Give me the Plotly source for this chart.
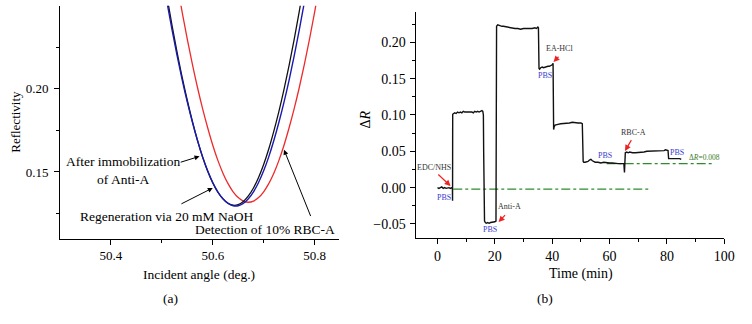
import plotly.graph_objects as go

# ---------------- Panel (a): SPR reflectivity curves ----------------
angle = [50.49, 50.50, 50.51, 50.52, 50.53, 50.54, 50.55, 50.56, 50.57, 50.58,
         50.59, 50.60, 50.61, 50.62, 50.63, 50.64, 50.65, 50.66, 50.67, 50.68,
         50.69, 50.70, 50.71, 50.72, 50.73, 50.74, 50.75, 50.76, 50.77, 50.78,
         50.79, 50.80]
refl_black = [0.2933, 0.2740, 0.2554, 0.2380, 0.2218, 0.2067, 0.1930, 0.1804, 0.1690, 0.1590,
              0.1505, 0.1434, 0.1378, 0.1338, 0.1312, 0.1300, 0.1304, 0.1323, 0.1356, 0.1404,
              0.1467, 0.1545, 0.1638, 0.1746, 0.1865, 0.1997, 0.2141, 0.2297, 0.2466, 0.2646,
              0.2838, 0.3030]
refl_blue = [0.2885, 0.2698, 0.2521, 0.2354, 0.2198, 0.2053, 0.1920, 0.1799, 0.1689, 0.1591,
             0.1507, 0.1437, 0.1381, 0.1339, 0.1311, 0.1297, 0.1297, 0.1311, 0.1339, 0.1381,
             0.1437, 0.1507, 0.1591, 0.1689, 0.1799, 0.1920, 0.2053, 0.2198, 0.2354, 0.2521,
             0.2698, 0.2885]
angle_red = [50.50, 50.51, 50.52, 50.53, 50.54, 50.55, 50.56, 50.57, 50.58, 50.59,
             50.60, 50.61, 50.62, 50.63, 50.64, 50.65, 50.66, 50.67, 50.68, 50.69,
             50.70, 50.71, 50.72, 50.73, 50.74, 50.75, 50.76, 50.77, 50.78, 50.79,
             50.80, 50.81, 50.82, 50.83]
refl_red = [0.3211, 0.3008, 0.2814, 0.2631, 0.2459, 0.2297, 0.2147, 0.2008, 0.1881, 0.1766,
            0.1661, 0.1570, 0.1493, 0.1430, 0.1381, 0.1346, 0.1325, 0.1318, 0.1325, 0.1346,
            0.1381, 0.1430, 0.1493, 0.1570, 0.1661, 0.1766, 0.1881, 0.2008, 0.2147, 0.2297,
            0.2459, 0.2631, 0.2814, 0.3008]

# ---------------- Panel (b): sensorgram ----------------
time_min = [0, 0.5, 1, 1.5, 2, 2.5, 3, 3.5, 4, 4.5, 5, 5.2, 5.25, 5.3,
            5.5, 6, 6.5, 7, 7.5, 8, 8.5, 9, 9.5, 10, 10.5, 11, 11.5, 12, 12.5, 13, 13.5, 14, 14.5, 15, 15.5, 15.8,
            16.0, 16.1, 16.2, 16.4, 16.7,
            17, 17.5, 18, 18.5, 19, 19.5, 20, 20.4,
            20.6,
            21, 21.5, 22, 22.5, 23, 24, 25, 26, 27, 28, 29, 30, 31, 32, 33, 34, 34.5, 35, 35.2,
            35.4,
            35.6, 36, 36.5, 37, 37.5, 38, 38.5, 39, 39.5, 40, 40.3,
            40.5, 40.7, 41,
            41.5, 42, 43, 44, 45, 46, 47, 48, 49, 50, 50.5,
            50.8,
            51, 51.5, 52, 52.5, 53, 53.5, 54, 54.5, 55, 56, 57, 58, 59, 60, 61, 62, 63, 64, 65,
            65.2, 65.3,
            65.5, 66, 66.5, 67, 67.5, 68, 69, 70, 71, 72, 73, 74, 75, 76, 77, 78, 79, 79.5, 80, 80.4,
            80.6,
            81, 81.5, 82, 82.5, 83, 83.5, 84, 84.5, 85]
delta_r = [0.000, -0.001, 0.000, 0.001, -0.001, 0.000, -0.001, 0.000, 0.000, -0.001, 0.000, -0.001, -0.018, 0.101,
           0.102, 0.103, 0.102, 0.104, 0.103, 0.104, 0.103, 0.105, 0.104, 0.104, 0.105, 0.104, 0.105, 0.104, 0.103, 0.105, 0.104, 0.105, 0.104, 0.105, 0.106, 0.105,
           0.100, 0.050, -0.040, -0.046, -0.048,
           -0.049, -0.048, -0.049, -0.048, -0.048, -0.047, -0.047, -0.046,
           0.222,
           0.224, 0.223, 0.223, 0.222, 0.222, 0.221, 0.221, 0.220, 0.219, 0.219, 0.218, 0.219, 0.219, 0.218, 0.219, 0.220, 0.219, 0.221, 0.220,
           0.164,
           0.163, 0.165, 0.166, 0.165, 0.166, 0.166, 0.167, 0.167, 0.168, 0.169, 0.171,
           0.080, 0.084, 0.086,
           0.087, 0.087, 0.088, 0.088, 0.089, 0.089, 0.090, 0.089, 0.089, 0.089, 0.088,
           0.036,
           0.035, 0.035, 0.035, 0.036, 0.038, 0.039, 0.037, 0.036, 0.035, 0.035, 0.034, 0.035, 0.034, 0.034, 0.034, 0.033, 0.033, 0.033, 0.033,
           0.021, 0.048,
           0.048, 0.049, 0.048, 0.049, 0.048, 0.048, 0.048, 0.048, 0.049, 0.049, 0.050, 0.050, 0.050, 0.051, 0.051, 0.050, 0.051, 0.052, 0.052, 0.051,
           0.040,
           0.040, 0.041, 0.040, 0.040, 0.041, 0.040, 0.040, 0.040, 0.039]

baseline1_t = [5.5, 73.5]
baseline1_r = [-0.002, -0.002]
baseline2_t = [59, 96]
baseline2_r = [0.033, 0.033]

FONT = "Liberation Serif, Times New Roman, serif"
W, H = 752, 324

fig = go.Figure()
fig.add_trace(go.Scatter(x=angle_red, y=refl_red, mode="lines", line=dict(color="#ee2a2a", width=1.3, shape="spline"),
                         xaxis="x", yaxis="y", showlegend=False))
fig.add_trace(go.Scatter(x=angle, y=refl_black, mode="lines", line=dict(color="#111111", width=1.3, shape="spline"),
                         xaxis="x", yaxis="y", showlegend=False))
fig.add_trace(go.Scatter(x=angle, y=refl_blue, mode="lines", line=dict(color="#1a1ab0", width=1.4, shape="spline"),
                         xaxis="x", yaxis="y", showlegend=False))

fig.add_trace(go.Scatter(x=baseline1_t, y=baseline1_r, mode="lines", line=dict(color="#2e8b2e", width=1.2, dash="dashdot"),
                         xaxis="x2", yaxis="y2", showlegend=False))
fig.add_trace(go.Scatter(x=baseline2_t, y=baseline2_r, mode="lines", line=dict(color="#2e8b2e", width=1.2, dash="dashdot"),
                         xaxis="x2", yaxis="y2", showlegend=False))
fig.add_trace(go.Scatter(x=time_min, y=delta_r, mode="lines", line=dict(color="#111111", width=1.4),
                         xaxis="x2", yaxis="y2", showlegend=False))

axis_common = dict(showline=True, linecolor="black", linewidth=1, ticks="outside", ticklen=5, tickwidth=1,
                   tickcolor="black", showgrid=False, zeroline=False, mirror=False)

fig.update_layout(
    width=W, height=H, margin=dict(l=0, r=0, t=0, b=0),
    paper_bgcolor="white", plot_bgcolor="white",
    font=dict(family=FONT, color="black", size=13),
    xaxis=dict(domain=[61 / W, 344 / W], range=[50.3, 50.848], anchor="y",
               tickvals=[50.4, 50.6, 50.8], ticktext=["50.4", "50.6", "50.8"],
               minor=dict(tickvals=[50.5, 50.7], ticks="outside", ticklen=3, tickcolor="black"),
               tickfont=dict(size=13, family=FONT), ticklabelstandoff=0, **axis_common),
    yaxis=dict(domain=[(H - 238.5) / H, (H - 5.7) / H], range=[0.11, 0.25], anchor="x",
               tickvals=[0.15, 0.20], ticktext=["0.15", "0.20"],
               minor=dict(tickvals=[0.125, 0.175, 0.225], ticks="outside", ticklen=3, tickcolor="black"),
               tickfont=dict(size=13, family=FONT), ticklabelstandoff=3, **axis_common),
    xaxis2=dict(domain=[421.7 / W, 735 / W], range=[-7.66, 100], anchor="y2",
                tickvals=[0, 20, 40, 60, 80, 100],
                minor=dict(tickvals=[10, 30, 50, 70, 90], ticks="outside", ticklen=3, tickcolor="black"),
                tickfont=dict(size=14, family=FONT), ticklabelstandoff=0, **axis_common),
    yaxis2=dict(domain=[(H - 238.3) / H, (H - 12) / H], range=[-0.0697, 0.2417], anchor="x2",
                tickvals=[-0.05, 0.0, 0.05, 0.10, 0.15, 0.20], tickformat=".2f",
                minor=dict(tickvals=[-0.025, 0.025, 0.075, 0.125, 0.175, 0.225], ticks="outside", ticklen=3, tickcolor="black"),
                tickfont=dict(size=14, family=FONT), ticklabelstandoff=1, **axis_common),
)

ann = []
def P(px, py):
    return px / W, 1 - py / H

for text, px, py, size, angle_deg in [
    ("Reflectivity", 15, 122, 13, -90),
    ("Incident angle (deg.)", 202, 274, 13.5, 0),
    ("(a)", 173, 298, 13.5, 0),
    ("Δ<i>R</i>", 370, 120, 14, -90),
    ("Time (min)", 590, 274, 14, 0),
    ("(b)", 553, 298, 13.5, 0),
]:
    x, y = P(px, py)
    ann.append(dict(text=text, x=x, y=y, xref="paper", yref="paper", showarrow=False,
                    xanchor="center", yanchor="middle", textangle=angle_deg,
                    font=dict(size=size, family=FONT, color="black")))

for text, x, y in [
    ("After immobilization<br>of Anti-A", 50.424, 0.1508),
    ("Regeneration via 20 mM NaOH", 50.510, 0.1233),
    ("Detection of 10% RBC-A", 50.7025, 0.1154),
]:
    ann.append(dict(text=text, x=x, y=y, xref="x", yref="y", showarrow=False, xanchor="center",
                    yanchor="middle", align="center", font=dict(size=13.5, family=FONT, color="black")))

for (tx, ty, hx, hy) in [
    (50.534, 0.1556, 50.574, 0.1594),
    (50.5355, 0.1304, 50.600, 0.1404),
    (50.7935, 0.1226, 50.740, 0.1634),
]:
    ann.append(dict(text="", x=hx, y=hy, ax=tx, ay=ty, xref="x", yref="y", axref="x", ayref="y",
                    showarrow=True, arrowhead=2, arrowsize=1, arrowwidth=1, arrowcolor="black"))

small = 8
for text, x, y, col, sz in [
    ("EDC/NHS", -1.2, 0.0284, "#333333", small),
    ("PBS", 2.3, -0.0129, "#3a3ad0", small),
    ("PBS", 18.45, -0.0579, "#3a3ad0", small),
    ("PBS", 37.35, 0.1547, "#3a3ad0", small),
    ("PBS", 58.4, 0.0441, "#3a3ad0", small),
    ("PBS", 83.6, 0.0482, "#3a3ad0", small),
    ("Anti-A", 25.0, -0.0253, "#333333", small),
    ("EA-HCl", 42.6, 0.1919, "#333333", small),
    ("RBC-A", 68.5, 0.0762, "#333333", small),
    ("Δ<i>R</i>=0.008", 93.1, 0.0421, "#3c7a2c", 7.5),
]:
    ann.append(dict(text=text, x=x, y=y, xref="x2", yref="y2", showarrow=False, xanchor="center",
                    yanchor="middle", font=dict(size=sz, family=FONT, color=col)))

for (tx, ty, hx, hy) in [
    (-0.24, 0.0201, 4.57, 0.0022),
    (24.05, -0.0358, 21.3, -0.0474),
    (42.7, 0.1822, 40.45, 0.1730),
    (67.9, 0.0675, 65.4, 0.0504),
]:
    ann.append(dict(text="", x=hx, y=hy, ax=tx, ay=ty, xref="x2", yref="y2", axref="x2", ayref="y2",
                    showarrow=True, arrowhead=2, arrowsize=1, arrowwidth=1.2, arrowcolor="#ee2222"))

fig.update_layout(annotations=ann)
fig.write_html("out.html", config={"displayModeBar": False},
               post_script="document.body.style.margin='0';document.body.style.overflow='hidden';")
